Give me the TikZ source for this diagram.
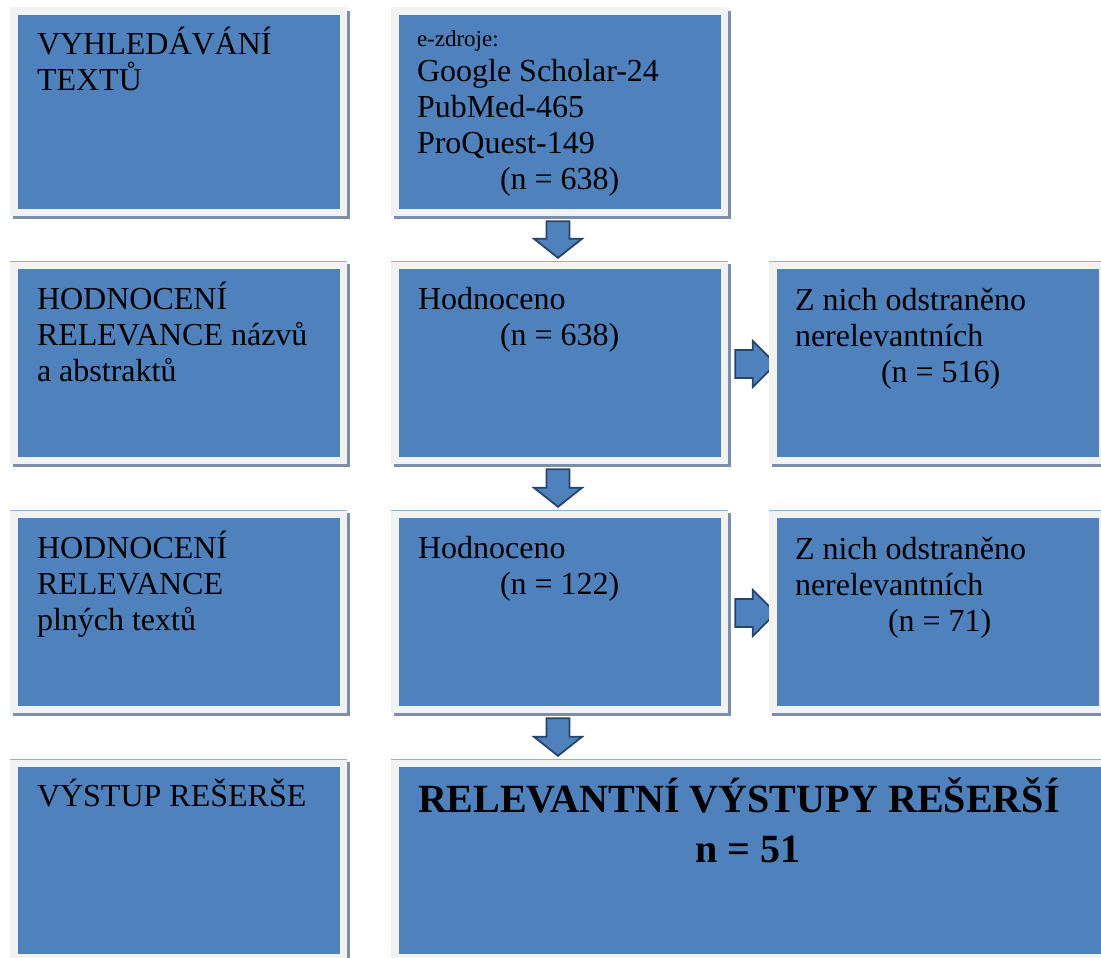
\documentclass[tikz,border=0pt]{standalone}
\usepackage{fontspec}
\setmainfont{Liberation Serif}
\usetikzlibrary{calc,shadows}
\definecolor{boxblue}{RGB}{79,129,189}
\definecolor{framegray}{RGB}{242,242,242}
\definecolor{shadowcol}{RGB}{125,143,168}
\definecolor{edgeblue}{RGB}{141,180,226}
\definecolor{arrowline}{RGB}{40,68,105}
\pgfdeclarelayer{bg}
\pgfsetlayers{bg,main}
\tikzset{
  frame/.style={rectangle, inner sep=0pt, fill=framegray, minimum width=337pt,
    drop shadow={shadow xshift=2.5pt, shadow yshift=-3pt, fill=shadowcol, opacity=1},
    path picture={
      \fill[boxblue] ([shift={(7.5pt,-7.5pt)}]path picture bounding box.north west)
        rectangle ([shift={(-7.5pt,7.5pt)}]path picture bounding box.south east);
      \draw[#1, line width=2.5pt] (path picture bounding box.north west) -- (path picture bounding box.north east);
    }},
  frame/.default=framegray,
  % base anchor of a multi-line node = baseline of its last line
  txt/.style={anchor=base west, align=left, inner sep=0pt, font=\fontsize{32}{36}\selectfont},
  smalltxt/.style={anchor=base west, inner sep=0pt, font=\fontsize{23}{27}\selectfont},
  bigtxt/.style={anchor=base west, align=left, inner sep=0pt, font=\fontsize{40}{50}\selectfont\bfseries},
  blockarrow/.style={fill=boxblue, draw=arrowline, line width=1.8pt, line join=miter}
}
\begin{document}
\begin{tikzpicture}[x=1pt,y=-1pt]
\path[use as bounding box, clip] (0,0) rectangle (1101,958);
\begin{pgfonlayer}{bg}
\fill[white] (0,0) rectangle (1101,958);
\end{pgfonlayer}

% row 1
\node[frame, minimum height=208pt] (b11) at (178.5,112) {};
\node[frame, minimum height=208pt] (b12) at (559.5,112) {};
% row 2
\node[frame=edgeblue, minimum height=203pt] (b21) at (178.5,362.5) {};
\node[frame=edgeblue, minimum height=203pt] (b22) at (559.5,362.5) {};
\node[frame=edgeblue, minimum height=203pt] (b23) at (937.5,362.5) {};
% row 3
\node[frame=edgeblue, minimum height=203pt] (b31) at (178.5,611.5) {};
\node[frame=edgeblue, minimum height=203pt] (b32) at (559.5,611.5) {};
\node[frame=edgeblue, minimum height=203pt] (b33) at (937.5,611.5) {};
% row 4
\node[frame=edgeblue, minimum height=202pt] (b41) at (178.5,860) {};
\node[frame=edgeblue, minimum height=202pt, minimum width=720pt] (b42) at (751,860) {};

% texts (positions give the baseline of the last line)
\node[txt] (t11) at ($(b11.north west)+(27,82.5)$) {VYHLEDÁVÁNÍ\\TEXTŮ};
\node[smalltxt] (t12a) at ($(b12.north west)+(26,39)$) {e-zdroje:};
\node[txt] (t12b) at ($(b12.north west)+(26,182)$) {Google Scholar-24\\PubMed-465\\ProQuest-149\\\hspace*{83pt}(n = 638)};
\node[txt] (t21) at ($(b21.north west)+(27,121)$) {HODNOCENÍ\\RELEVANCE názvů\\a abstraktů};
\node[txt] (t22) at ($(b22.north west)+(27,84.5)$) {Hodnoceno\\\hspace*{82pt}(n = 638)};
\node[txt] (t23) at ($(b23.north west)+(26,121.5)$) {Z nich odstraněno\\nerelevantních\\\hspace*{86pt}(n = 516)};
\node[txt] (t31) at ($(b31.north west)+(27,121)$) {HODNOCENÍ\\RELEVANCE\\plných textů};
\node[txt] (t32) at ($(b32.north west)+(27,84.5)$) {Hodnoceno\\\hspace*{82pt}(n = 122)};
\node[txt] (t33) at ($(b33.north west)+(26,121.5)$) {Z nich odstraněno\\nerelevantních\\\hspace*{93pt}(n = 71)};
\node[txt] (t41) at ($(b41.north west)+(27,48)$) {VÝSTUP REŠERŠE};
\node[bigtxt] (t42) at ($(b42.north west)+(27,104)$) {RELEVANTNÍ VÝSTUPY REŠERŠÍ\\\hspace*{277pt}n = 51};

% arrows
\begin{pgfonlayer}{bg}
\foreach \u/\l in {b12/b22, b22/b32, b32/b42}{
  \draw[blockarrow] let \p1=(\u.south), \p3=(\l.north) in
    (\x1-13pt,\y1-5pt) -- (\x1+10pt,\y1-5pt) -- (\x1+10pt,\y3+22pt) -- (\x1+22.5pt,\y3+22pt)
    -- (\x1-1.5pt,\y3+3pt) -- (\x1-25.5pt,\y3+22pt) -- (\x1-13pt,\y3+22pt) -- cycle;
}
\foreach \a/\b in {b22/b23, b32/b33}{
  \draw[blockarrow] let \p1=(\a.east), \p2=(\b.west) in
    (\x1+7pt,\y1+12.5pt) -- (\x2-16pt,\y1+12.5pt) -- (\x2-16pt,\y1+21.5pt) -- (\x2+7pt,\y1-1.5pt)
    -- (\x2-16pt,\y1-24.5pt) -- (\x2-16pt,\y1-15.5pt) -- (\x1+7pt,\y1-15.5pt) -- cycle;
}
\end{pgfonlayer}
\end{tikzpicture}
\end{document}
